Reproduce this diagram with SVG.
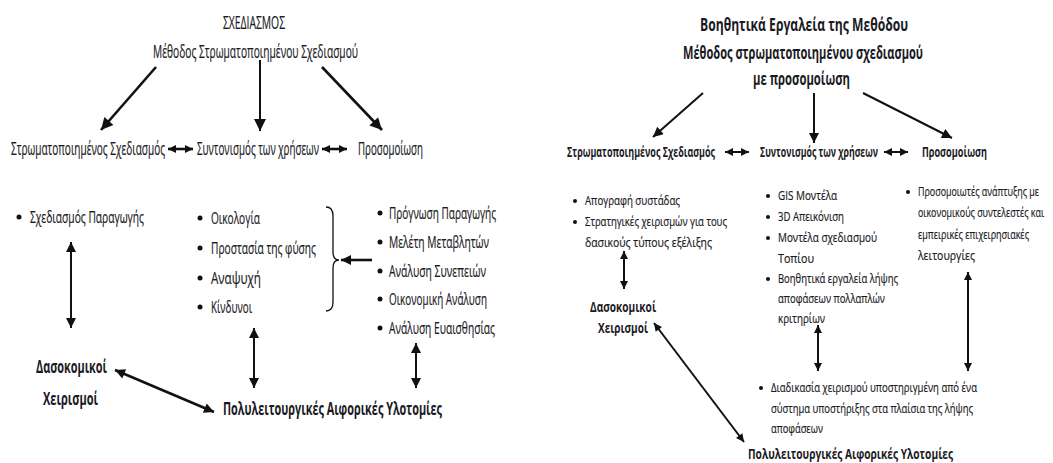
<svg xmlns="http://www.w3.org/2000/svg" width="1053" height="463" viewBox="0 0 1053 463">
<defs>
<style>
text{font-family:"Open Sans","Noto Sans","Liberation Sans",sans-serif;fill:#1a1a24;stroke:#1a1a24;stroke-width:0.2}
.t19{font-size:19px}
.t18{font-size:18px}
.t17{font-size:17px}
.t16{font-size:16px}
.t13{font-size:13.5px}
.b{font-weight:bold;stroke-width:0}
.ln{stroke:#111;stroke-width:2;fill:none}
.lnT{stroke:#111;stroke-width:2.6;fill:none}
.dot{fill:#111}
</style>
<marker id="ah" viewBox="0 0 10 10" refX="10" refY="5" markerWidth="11" markerHeight="10" orient="auto-start-reverse" markerUnits="userSpaceOnUse"><path d="M0,0 L10,5 L0,10 z" fill="#111"/></marker>
<marker id="ahL" viewBox="0 0 10 10" refX="10" refY="5" markerWidth="13" markerHeight="12" orient="auto-start-reverse" markerUnits="userSpaceOnUse"><path d="M0,0 L10,5 L0,10 z" fill="#111"/></marker>
<marker id="ahS" viewBox="0 0 10 10" refX="10" refY="5" markerWidth="9" markerHeight="8" orient="auto-start-reverse" markerUnits="userSpaceOnUse"><path d="M0,0 L10,5 L0,10 z" fill="#111"/></marker>
</defs>
<rect width="1053" height="463" fill="#fff"/>

<g id="connectors">
<line class="lnT" x1="156" y1="67" x2="101" y2="130" marker-end="url(#ahL)"/>
<line class="ln" x1="260" y1="60" x2="260" y2="131" marker-end="url(#ahL)"/>
<line class="lnT" x1="322" y1="67" x2="382" y2="130" marker-end="url(#ahL)"/>
<line class="lnT" x1="168" y1="149" x2="193" y2="149" marker-start="url(#ahS)" marker-end="url(#ahS)"/>
<line class="lnT" x1="322" y1="149" x2="347" y2="149" marker-start="url(#ahS)" marker-end="url(#ahS)"/>
<line class="ln" x1="71" y1="242" x2="71" y2="328" marker-start="url(#ah)" marker-end="url(#ah)"/>
<line class="lnT" x1="372" y1="260" x2="341" y2="260" marker-end="url(#ah)"/>
<path class="ln" style="stroke-width:1.3" d="M326,207 Q333,207 333,216 L333,252 Q333,260 339,260 Q333,260 333,268 L333,302 Q333,311 326,311"/>
<line class="ln" x1="254" y1="328" x2="254" y2="388" marker-start="url(#ah)" marker-end="url(#ah)"/>
<line class="ln" x1="416" y1="343" x2="416" y2="388" marker-start="url(#ah)" marker-end="url(#ah)"/>
<line class="lnT" x1="115" y1="370" x2="214" y2="412" marker-start="url(#ah)" marker-end="url(#ah)"/>
<line class="ln" x1="703" y1="93" x2="653" y2="137" marker-end="url(#ah)"/>
<line class="ln" x1="814" y1="93" x2="814" y2="143" marker-end="url(#ah)"/>
<line class="ln" x1="863" y1="93" x2="952" y2="138" marker-end="url(#ah)"/>
<line class="ln" x1="725" y1="152" x2="749" y2="152" marker-start="url(#ahS)" marker-end="url(#ahS)"/>
<line class="ln" x1="884" y1="152" x2="908" y2="152" marker-start="url(#ahS)" marker-end="url(#ahS)"/>
<line class="ln" x1="624" y1="251" x2="624" y2="289" marker-start="url(#ahS)" marker-end="url(#ahS)"/>
<line class="ln" x1="818" y1="325" x2="818" y2="371" marker-start="url(#ahS)" marker-end="url(#ahS)"/>
<line class="ln" x1="968" y1="272" x2="968" y2="371" marker-start="url(#ahS)" marker-end="url(#ahS)"/>
<line class="ln" x1="654" y1="323" x2="744" y2="442" marker-start="url(#ahS)" marker-end="url(#ahS)"/>
</g>

<g id="l-title"><text class="t19" x="223" y="29" textLength="62" lengthAdjust="spacingAndGlyphs">ΣΧΕΔΙΑΣΜΟΣ</text></g>
<g id="l-method"><text class="t18" x="153" y="58" textLength="205" lengthAdjust="spacingAndGlyphs">Μέθοδος Στρωματοποιημένου Σχεδιασμού</text></g>
<g id="l-strat"><text class="t18" x="11" y="155" textLength="154" lengthAdjust="spacingAndGlyphs">Στρωματοποιημένος Σχεδιασμός</text></g>
<g id="l-coord"><text class="t18" x="197" y="155" textLength="122" lengthAdjust="spacingAndGlyphs">Συντονισμός των χρήσεων</text></g>
<g id="l-sim"><text class="t18" x="358" y="155" textLength="65" lengthAdjust="spacingAndGlyphs">Προσομοίωση</text></g>
<g id="l-prod">
<circle class="dot" cx="19" cy="217" r="2.5"/>
<text class="t17" x="30" y="223" textLength="114" lengthAdjust="spacingAndGlyphs">Σχεδιασμός Παραγωγής</text>
</g>
<g id="l-uses">
<circle class="dot" cx="200" cy="218" r="2.5"/>
<text class="t17" x="211" y="224" textLength="49" lengthAdjust="spacingAndGlyphs">Οικολογία</text>
<circle class="dot" cx="200" cy="248" r="2.5"/>
<text class="t17" x="211" y="254" textLength="105" lengthAdjust="spacingAndGlyphs">Προστασία της φύσης</text>
<circle class="dot" cx="200" cy="278" r="2.5"/>
<text class="t17" x="211" y="284" textLength="50" lengthAdjust="spacingAndGlyphs">Αναψυχή</text>
<circle class="dot" cx="200" cy="307" r="2.5"/>
<text class="t17" x="211" y="313" textLength="41" lengthAdjust="spacingAndGlyphs">Κίνδυνοι</text>
</g>
<g id="l-analysis">
<circle class="dot" cx="380" cy="213" r="2.5"/>
<text class="t17" x="389" y="219" textLength="107" lengthAdjust="spacingAndGlyphs">Πρόγνωση Παραγωγής</text>
<circle class="dot" cx="380" cy="242" r="2.5"/>
<text class="t17" x="389" y="248" textLength="100" lengthAdjust="spacingAndGlyphs">Μελέτη Μεταβλητών</text>
<circle class="dot" cx="380" cy="271" r="2.5"/>
<text class="t17" x="389" y="277" textLength="97" lengthAdjust="spacingAndGlyphs">Ανάλυση Συνεπειών</text>
<circle class="dot" cx="380" cy="299" r="2.5"/>
<text class="t17" x="389" y="305" textLength="98" lengthAdjust="spacingAndGlyphs">Οικονομική Ανάλυση</text>
<circle class="dot" cx="380" cy="328" r="2.5"/>
<text class="t17" x="389" y="334" textLength="106" lengthAdjust="spacingAndGlyphs">Ανάλυση Ευαισθησίας</text>
</g>
<g id="l-silv">
<text class="t18 b" x="36" y="373" textLength="71" lengthAdjust="spacingAndGlyphs">Δασοκομικοί</text>
<text class="t18 b" x="43" y="405" textLength="55" lengthAdjust="spacingAndGlyphs">Χειρισμοί</text>
</g>
<g id="l-result"><text class="t18 b" x="223" y="415" textLength="219" lengthAdjust="spacingAndGlyphs">Πολυλειτουργικές Αιφορικές Υλοτομίες</text></g>

<g id="r-title">
<text class="t18 b" x="700" y="31" textLength="208" lengthAdjust="spacingAndGlyphs">Βοηθητικά Εργαλεία της Μεθόδου</text>
<text class="t17 b" x="683" y="59" textLength="240" lengthAdjust="spacingAndGlyphs">Μέθοδος στρωματοποιημένου σχεδιασμού</text>
<text class="t17 b" x="753" y="85" textLength="97" lengthAdjust="spacingAndGlyphs">με προσομοίωση</text>
</g>
<g id="r-strat"><text class="t13 b" x="567" y="157" textLength="148" lengthAdjust="spacingAndGlyphs">Στρωματοποιημένος Σχεδιασμός</text></g>
<g id="r-coord"><text class="t13 b" x="760" y="157" textLength="118" lengthAdjust="spacingAndGlyphs">Συντονισμός των χρήσεων</text></g>
<g id="r-sim"><text class="t13 b" x="922" y="157" textLength="65" lengthAdjust="spacingAndGlyphs">Προσομοίωση</text></g>
<g id="r-inventory">
<circle class="dot" cx="575" cy="201" r="2"/>
<text class="t13" x="585" y="205" textLength="95" lengthAdjust="spacingAndGlyphs">Απογραφή συστάδας</text>
<circle class="dot" cx="575" cy="222" r="2"/>
<text class="t13" x="585" y="226" textLength="142" lengthAdjust="spacingAndGlyphs">Στρατηγικές χειρισμών για τους</text>
<text class="t13" x="585" y="247" textLength="127" lengthAdjust="spacingAndGlyphs">δασικούς τύπους εξέλιξης</text>
</g>
<g id="r-silv">
<text class="t13 b" x="590" y="312" textLength="66" lengthAdjust="spacingAndGlyphs">Δασοκομικοί</text>
<text class="t13 b" x="598" y="333" textLength="50" lengthAdjust="spacingAndGlyphs">Χειρισμοί</text>
</g>
<g id="r-tools">
<circle class="dot" cx="768" cy="196" r="2"/>
<text class="t13" x="778" y="200" textLength="59" lengthAdjust="spacingAndGlyphs">GIS Μοντέλα</text>
<circle class="dot" cx="768" cy="217" r="2"/>
<text class="t13" x="778" y="221" textLength="66" lengthAdjust="spacingAndGlyphs">3D Απεικόνιση</text>
<circle class="dot" cx="768" cy="238" r="2"/>
<text class="t13" x="778" y="242" textLength="99" lengthAdjust="spacingAndGlyphs">Μοντέλα σχεδιασμού</text>
<text class="t13" x="778" y="263" textLength="36" lengthAdjust="spacingAndGlyphs">Τοπίου</text>
<circle class="dot" cx="768" cy="279" r="2"/>
<text class="t13" x="778" y="283" textLength="120" lengthAdjust="spacingAndGlyphs">Βοηθητικά εργαλεία λήψης</text>
<text class="t13" x="778" y="303" textLength="107" lengthAdjust="spacingAndGlyphs">αποφάσεων πολλαπλών</text>
<text class="t13" x="778" y="323" textLength="47" lengthAdjust="spacingAndGlyphs">κριτηρίων</text>
</g>
<g id="r-simulators">
<circle class="dot" cx="908" cy="192" r="2"/>
<text class="t13" x="918" y="196" textLength="121" lengthAdjust="spacingAndGlyphs">Προσομοιωτές ανάπτυξης  με</text>
<text class="t13" x="918" y="217" textLength="126" lengthAdjust="spacingAndGlyphs">οικονομικούς συντελεστές και</text>
<text class="t13" x="918" y="239" textLength="111" lengthAdjust="spacingAndGlyphs">εμπειρικές επιχειρησιακές</text>
<text class="t13" x="918" y="260" textLength="57" lengthAdjust="spacingAndGlyphs">λειτουργίες</text>
</g>
<g id="r-process">
<circle class="dot" cx="761" cy="388" r="2"/>
<text class="t13" x="771" y="392" textLength="206" lengthAdjust="spacingAndGlyphs">Διαδικασία χειρισμού υποστηριγμένη από ένα</text>
<text class="t13" x="771" y="413" textLength="202" lengthAdjust="spacingAndGlyphs">σύστημα υποστήριξης στα πλαίσια της λήψης</text>
<text class="t13" x="771" y="433" textLength="52" lengthAdjust="spacingAndGlyphs">αποφάσεων</text>
</g>
<g id="r-result"><text class="t13 b" x="748" y="459" textLength="205" lengthAdjust="spacingAndGlyphs">Πολυλειτουργικές Αιφορικές Υλοτομίες</text></g>
</svg>
